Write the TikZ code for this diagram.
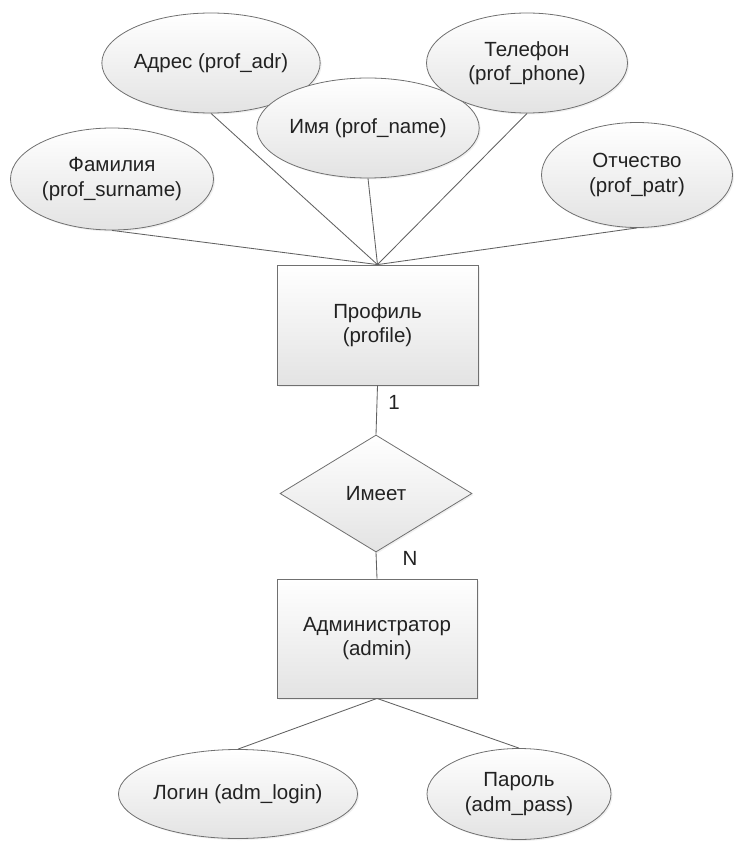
\documentclass[tikz,border=0pt]{standalone}
\usepackage{fontspec}
\setmainfont{Liberation Sans}
\usetikzlibrary{shapes.geometric,shadows}
\definecolor{edge}{HTML}{707070}
\definecolor{txt}{HTML}{222222}
\begin{document}
\begin{tikzpicture}[x=1pt,y=-1pt,
  every node/.style={font=\fontsize{20.5}{24.5}\selectfont, text=txt, align=center, inner sep=0pt},
  shp/.style={draw=edge, line width=0.8pt, top color=white, bottom color=black!11,
     drop shadow={opacity=0.12, shadow xshift=1.5pt, shadow yshift=-1.5pt}},
  attr/.style={shp, ellipse},
  ent/.style={shp, rectangle, minimum width=201pt, minimum height=120pt},
  rel/.style={shp, diamond, minimum width=192pt, minimum height=117pt, aspect=1.64},
  conn/.style={draw=black!62, line width=0.85pt}]
\useasboundingbox (0,0) rectangle (735,850);

\node[attr, minimum width=202pt, minimum height=100pt] (adr) at (211,63) {Адрес (prof\_adr)};
\node[attr, minimum width=200pt, minimum height=100pt] (name) at (368,128) {Имя (prof\_name)};
\node[attr, minimum width=201pt, minimum height=100pt] (phone) at (527,63) {Телефон\\(prof\_phone)};
\node[attr, minimum width=203pt, minimum height=102pt] (sur) at (112,179) {Фамилия\\(prof\_surname)};
\node[attr, minimum width=191pt, minimum height=105pt] (patr) at (637,175) {Отчество\\(prof\_patr)};

\node[ent] (prof) at (377.5,325) {Профиль\\(profile)};
\node[rel] (has) at (376,493.5) {Имеет};
\node[ent, minimum width=200pt, minimum height=119pt] (admin) at (377,638.5) {Администратор\\(admin)};

\node[attr, minimum width=186pt, minimum height=89pt] (login) at (238,794) {Логин (adm\_login)};
\node[attr, minimum width=184pt, minimum height=91pt] (pass) at (519,794) {Пароль\\(adm\_pass)};

\draw[conn] (sur.south) -- (prof.north);
\draw[conn] (adr.south) -- (prof.north);
\draw[conn] (name.south) -- (prof.north);
\draw[conn] (phone.south) -- (prof.north);
\draw[conn] (patr.south) -- (prof.north);

\draw[conn] (prof.south) -- (has.north);
\draw[conn] (has.south) -- (admin.north);
\draw[conn] (admin.south) -- (login.north);
\draw[conn] (admin.south) -- (pass.north);

\node (one) at (394,402) {1};
\node (nn) at (410,558) {N};
\end{tikzpicture}
\end{document}
